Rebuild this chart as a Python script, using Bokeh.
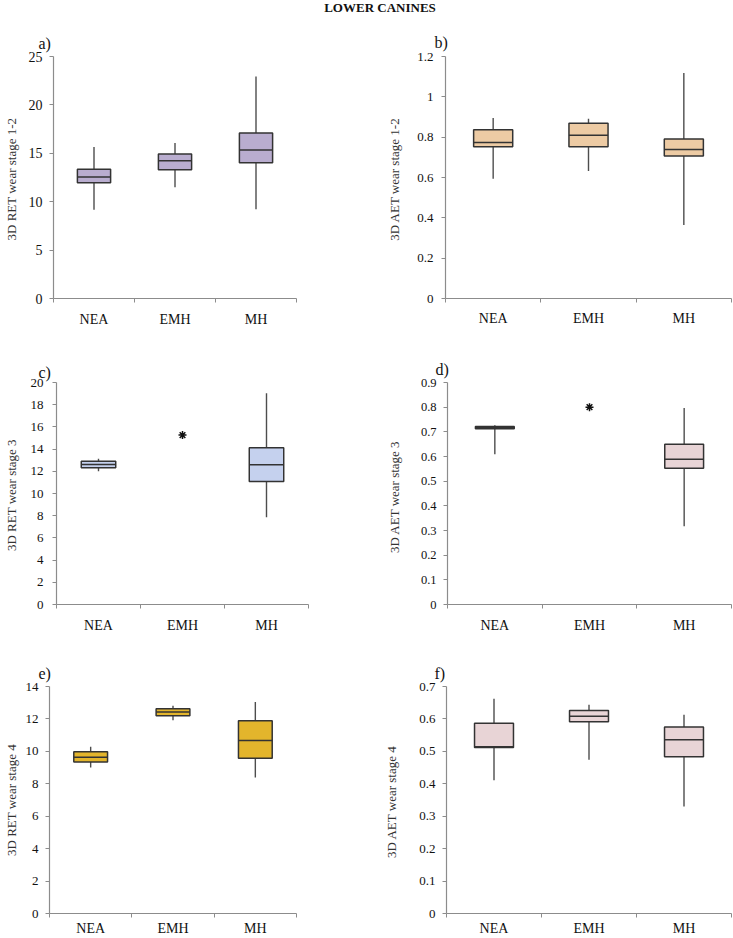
from bokeh.plotting import figure
from bokeh.models import FixedTicker, Range1d, Div
from bokeh.layouts import column, row
from bokeh.embed import file_html
from bokeh.resources import INLINE

TITLE = "LOWER CANINES"
groups = ["NEA", "EMH", "MH"]

# a) 3D RET wear stage 1-2
a_groups = ["NEA", "EMH", "MH"]
a_low = [9.18, 11.49, 9.22]
a_q1 = [11.97, 13.31, 14.03]
a_med = [12.55, 14.24, 15.34]
a_q3 = [13.34, 14.92, 17.09]
a_high = [15.65, 16.06, 22.94]
a_ticks = [0, 5, 10, 15, 20, 25]

# b) 3D AET wear stage 1-2
b_groups = ["NEA", "EMH", "MH"]
b_low = [0.594, 0.632, 0.365]
b_q1 = [0.752, 0.752, 0.707]
b_med = [0.773, 0.809, 0.739]
b_q3 = [0.837, 0.869, 0.791]
b_high = [0.895, 0.891, 1.118]
b_ticks = [0, 0.2, 0.4, 0.6, 0.8, 1, 1.2]

# c) 3D RET wear stage 3 (EMH: single value)
c_groups = ["NEA", "MH"]
c_low = [12.0, 7.87]
c_q1 = [12.32, 11.08]
c_med = [12.61, 12.6]
c_q3 = [12.91, 14.12]
c_high = [13.14, 19.03]
c_single_groups = ["EMH"]
c_single = [15.26]
c_ticks = [0, 2, 4, 6, 8, 10, 12, 14, 16, 18, 20]

# d) 3D AET wear stage 3 (EMH: single value)
d_groups = ["NEA", "MH"]
d_low = [0.609, 0.317]
d_q1 = [0.713, 0.552]
d_med = [0.718, 0.589]
d_q3 = [0.722, 0.650]
d_high = [0.727, 0.797]
d_single_groups = ["EMH"]
d_single = [0.80]
d_ticks = [0, 0.1, 0.2, 0.3, 0.4, 0.5, 0.6, 0.7, 0.8, 0.9]

# e) 3D RET wear stage 4
e_groups = ["NEA", "EMH", "MH"]
e_low = [9.0, 11.92, 8.39]
e_q1 = [9.35, 12.2, 9.57]
e_med = [9.63, 12.43, 10.67]
e_q3 = [9.98, 12.63, 11.88]
e_high = [10.28, 12.82, 13.04]
e_ticks = [0, 2, 4, 6, 8, 10, 12, 14]

# f) 3D AET wear stage 4
f_groups = ["NEA", "EMH", "MH"]
f_low = [0.411, 0.474, 0.330]
f_q1 = [0.512, 0.591, 0.483]
f_med = [0.514, 0.608, 0.536]
f_q3 = [0.587, 0.626, 0.575]
f_high = [0.662, 0.644, 0.613]
f_ticks = [0, 0.1, 0.2, 0.3, 0.4, 0.5, 0.6, 0.7]

SERIF = "Liberation Serif"
AXIS_GREY = "#8c8c8c"


def panel(tag, ylabel, ticks, box_groups, low, q1, med, q3, high, fill,
          single_groups=None, single_vals=None, *, w, h, ml, mr, mt, mb,
          tick_font="13px", ytick_standoff=7, ylab_standoff=4,
          xlab_standoff=9, tag_dx=-10, tag_dy=3):
    p = figure(width=w, height=h, title=tag,
               x_range=Range1d(0, len(groups)),
               y_range=Range1d(ticks[0], ticks[-1]),
               output_backend="svg", toolbar_location=None,
               min_border_left=ml, min_border_right=mr,
               min_border_top=mt, min_border_bottom=mb)
    p.outline_line_color = None
    p.xgrid.visible = False
    p.ygrid.visible = False
    p.background_fill_color = "white"
    p.border_fill_color = "white"

    p.title.align = "left"
    p.title.offset = tag_dx
    p.title.standoff = tag_dy
    p.title.text_font = SERIF
    p.title.text_font_size = "16px"
    p.title.text_font_style = "normal"
    p.title.text_color = "#111111"

    pos = {g: i + 0.5 for i, g in enumerate(groups)}
    xs = [pos[g] for g in box_groups]
    bw = 0.41
    p.segment(x0=xs, y0=low, x1=xs, y1=high, line_color="#4d4d4d", line_width=1.4)
    p.vbar(x=xs, width=bw, bottom=q1, top=q3, fill_color=fill,
           line_color="#333333", line_width=1.5)
    p.segment(x0=[x - bw / 2 for x in xs], y0=med,
              x1=[x + bw / 2 for x in xs], y1=med,
              line_color="#333333", line_width=1.5)
    if single_groups:
        p.scatter(x=[pos[g] for g in single_groups], y=single_vals,
                  marker="asterisk", size=8, line_color="#111111", line_width=1.5)

    xa = p.xaxis[0]
    xa.ticker = FixedTicker(ticks=[pos[g] for g in groups],
                            minor_ticks=[float(i) for i in range(len(groups) + 1)])
    xa.major_label_overrides = {pos[g]: g for g in groups}
    xa.axis_line_color = AXIS_GREY
    xa.axis_line_width = 1.2
    xa.major_tick_line_color = None
    xa.major_tick_out = 0
    xa.major_tick_in = 0
    xa.minor_tick_line_color = AXIS_GREY
    xa.minor_tick_out = 4
    xa.minor_tick_in = 0
    xa.major_label_standoff = xlab_standoff
    xa.major_label_text_font = SERIF
    xa.major_label_text_font_size = "14px"
    xa.major_label_text_color = "#111111"

    ya = p.yaxis[0]
    ya.ticker = FixedTicker(ticks=ticks)
    ya.major_label_overrides = {t: f"{t:g}" for t in ticks}
    ya.axis_line_color = AXIS_GREY
    ya.axis_line_width = 1.2
    ya.major_tick_line_color = AXIS_GREY
    ya.major_tick_out = 4
    ya.major_tick_in = 0
    ya.minor_tick_line_color = None
    ya.major_label_standoff = ytick_standoff
    ya.major_label_text_font = SERIF
    ya.major_label_text_font_size = tick_font
    ya.major_label_text_color = "#111111"
    ya.axis_label = ylabel
    ya.axis_label_text_font = SERIF
    ya.axis_label_text_font_style = "normal"
    ya.axis_label_text_font_size = "13px"
    ya.axis_label_text_color = "#333333"
    ya.axis_label_standoff = ylab_standoff
    return p


# page is laid out from (0, 0): the Bokeh page template has no body margin
pa = panel("a)", "3D RET  wear stage 1-2", a_ticks, a_groups, a_low, a_q1, a_med, a_q3, a_high,
           "#b9adcf", w=356, h=326, ml=48, mr=60, mt=42, mb=42,
           tick_font="14px", ytick_standoff=7, ylab_standoff=7, xlab_standoff=9,
           tag_dx=-15, tag_dy=10)
pb = panel("b)", "3D AET  wear stage 1-2", b_ticks, b_groups, b_low, b_q1, b_med, b_q3, b_high,
           "#edcba4", w=377, h=326, ml=89, mr=2, mt=42, mb=38,
           tick_font="13px", ytick_standoff=8, ylab_standoff=12, xlab_standoff=8,
           tag_dx=-11, tag_dy=12)
pc = panel("c)", "3D RET  wear stage 3", c_ticks, c_groups, c_low, c_q1, c_med, c_q3, c_high,
           "#c5d1ee", c_single_groups, c_single, w=356, h=305, ml=50, mr=48, mt=39, mb=38,
           tick_font="13px", ytick_standoff=9, ylab_standoff=9, xlab_standoff=9,
           tag_dx=-18, tag_dy=4)
pd = panel("d)", "3D AET   wear stage 3", d_ticks, d_groups, d_low, d_q1, d_med, d_q3, d_high,
           "#e8d4d6", d_single_groups, d_single, w=377, h=305, ml=91, mr=2, mt=42, mb=41,
           tick_font="12.5px", ytick_standoff=7, ylab_standoff=16, xlab_standoff=9,
           tag_dx=-12, tag_dy=9)
pe = panel("e)", "3D RET wear stage 4", e_ticks, e_groups, e_low, e_q1, e_med, e_q3, e_high,
           "#e3b52c", w=356, h=293, ml=43, mr=60, mt=41, mb=23,
           tick_font="13px", ytick_standoff=7, ylab_standoff=4, xlab_standoff=3,
           tag_dx=-11, tag_dy=10)
pf = panel("f)", "3D AET  wear stage 4", f_ticks, f_groups, f_low, f_q1, f_med, f_q3, f_high,
           "#e8d4d6", w=377, h=293, ml=90, mr=2, mt=41, mb=23,
           tick_font="13px", ytick_standoff=7, ylab_standoff=17, xlab_standoff=3,
           tag_dx=-12, tag_dy=10)

title = Div(text=(f'<div style="width:733px;text-align:center;font-family:\'{SERIF}\';'
                  f'font-weight:bold;font-size:13px;line-height:14px;padding-left:27px;'
                  f'box-sizing:border-box;color:#111;">{TITLE}</div>'),
            width=733, height=14, margin=(0, 0, 0, 0))

layout = column(title, row(pa, pb), row(pc, pd), row(pe, pf))

with open("out.html", "w") as fh:
    fh.write(file_html(layout, INLINE))
